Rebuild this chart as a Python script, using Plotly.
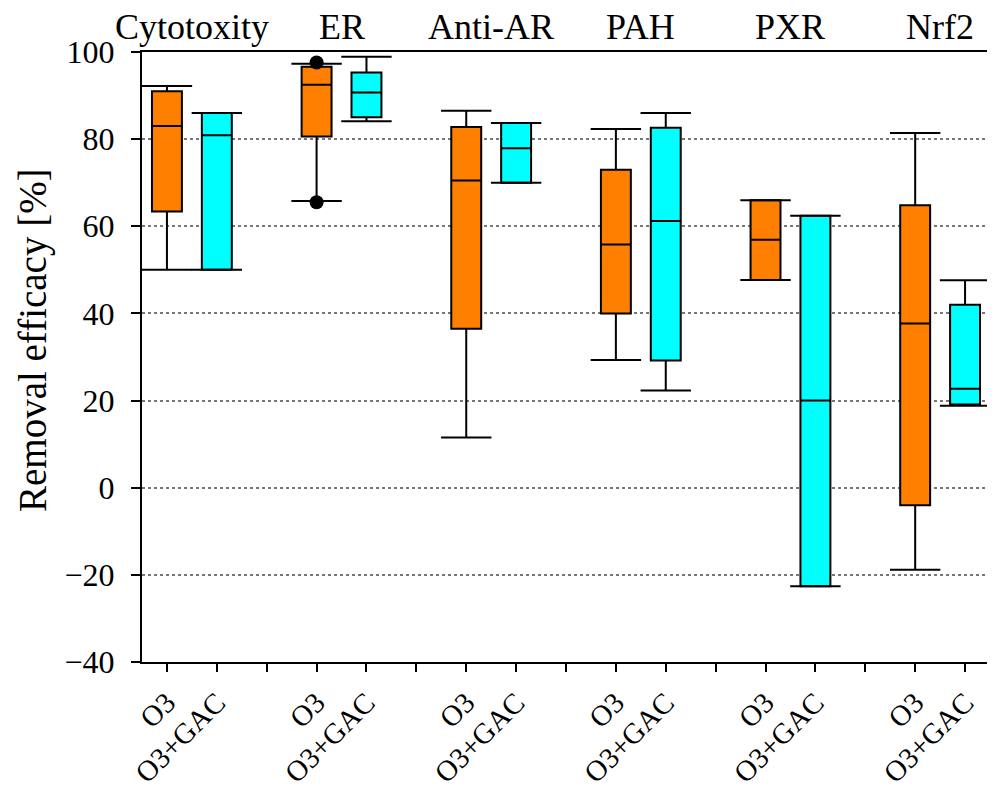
import plotly.graph_objects as go

categories = ["Cytotoxity", "ER", "Anti-AR", "PAH", "PXR", "Nrf2"]
treatments = ["O3", "O3+GAC"]

# O3 series (box statistics, %)
o3_lower = [50.0, 65.8, 11.5, 29.3, 47.7, -18.8]
o3_q1 = [63.4, 80.6, 36.5, 40.0, 47.7, -4.0]
o3_median = [83.0, 92.5, 70.5, 55.8, 56.9, 37.7]
o3_q3 = [91.0, 96.6, 82.8, 73.0, 66.0, 64.8]
o3_upper = [92.2, 97.3, 86.5, 82.3, 66.0, 81.4]

# O3+GAC series
gac_lower = [50.0, 84.1, 70.0, 22.3, -22.6, 18.8]
gac_q1 = [50.0, 85.0, 70.0, 29.2, -22.6, 19.1]
gac_median = [80.9, 90.7, 77.9, 61.2, 20.0, 22.7]
gac_q3 = [86.0, 95.3, 83.7, 82.6, 62.4, 42.0]
gac_upper = [86.0, 98.9, 83.7, 86.0, 62.4, 47.6]

# outliers (ER, O3)
outlier_category = "ER"
outlier_values = [97.6, 65.5]

y_ticks = [-40, -20, 0, 20, 40, 60, 80, 100]

FONT = "Liberation Serif"
ORANGE = "#FF7F00"
CYAN = "#00FFFF"

n = len(categories)
pos_o3 = [3 * i for i in range(n)]
pos_gac = [3 * i + 1 for i in range(n)]

fig = go.Figure()

series = [
    (pos_o3, o3_lower, o3_q1, o3_median, o3_q3, o3_upper, ORANGE, treatments[0]),
    (pos_gac, gac_lower, gac_q1, gac_median, gac_q3, gac_upper, CYAN, treatments[1]),
]

for pos, lo, q1, med, q3, up, col, name in series:
    fig.add_trace(go.Box(
        x=pos, q1=q1, median=med, q3=q3, lowerfence=lo, upperfence=up,
        fillcolor=col, line=dict(color="black", width=2),
        width=0.6, whiskerwidth=0, boxpoints=False, name=name,
        hoverinfo="skip", showlegend=False,
    ))
    # whisker caps
    fig.add_trace(go.Scatter(
        x=pos + pos, y=lo + up, mode="markers",
        marker=dict(symbol="line-ew", size=36, color="black",
                    line=dict(color="black", width=2)),
        hoverinfo="skip", showlegend=False,
    ))

oi = categories.index(outlier_category)
fig.add_trace(go.Scatter(
    x=[pos_o3[oi]] * len(outlier_values), y=outlier_values, mode="markers",
    marker=dict(symbol="circle", size=14, color="black"),
    hoverinfo="skip", showlegend=False,
))

tickvals = list(range(3 * n - 1))
ticktext = []
for t in tickvals:
    if t % 3 == 0:
        ticktext.append(treatments[0])
    elif t % 3 == 1:
        ticktext.append(treatments[1])
    else:
        ticktext.append("")

for i, c in enumerate(categories):
    fig.add_annotation(
        x=3 * i + 0.5, xref="x", y=1, yref="paper", yanchor="middle",
        yshift=25, text=c, showarrow=False,
        font=dict(family=FONT, size=36, color="black"),
    )

fig.add_annotation(
    x=0, xref="paper", xshift=-109, y=0.5, yref="paper", yshift=17,
    text="Removal efficacy [%]", textangle=-90, showarrow=False,
    xanchor="center", yanchor="middle",
    font=dict(family=FONT, size=39, color="black"),
)

fig.update_layout(
    width=987, height=781,
    margin=dict(l=134, r=5, t=44, b=127),
    paper_bgcolor="white", plot_bgcolor="white",
    boxmode="overlay",
    font=dict(family=FONT, size=32, color="black"),
    xaxis=dict(
        range=[-0.5, 3 * n - 1.5], tickmode="array", tickvals=tickvals,
        ticktext=ticktext, tickangle=-45, ticks="outside", ticklen=8,
        tickwidth=2, tickcolor="black", showline=True, linecolor="black",
        linewidth=2, mirror=True, showgrid=False, zeroline=False,
        automargin=False, ticklabelstandoff=2,
        tickfont=dict(family=FONT, size=29, color="black"),
    ),
    yaxis=dict(
        range=[-40, 100], tickmode="array", tickvals=y_ticks,
        ticks="outside", ticklen=9, tickwidth=2, tickcolor="black",
        showline=True, linecolor="black", linewidth=2, mirror=True,
        showgrid=True, gridcolor="#777777", griddash="dot", gridwidth=1.5,
        zeroline=False, ticklabelstandoff=10, automargin=False,
        tickfont=dict(family=FONT, size=32, color="black"),
    ),
)

fig.write_html("out.html")
